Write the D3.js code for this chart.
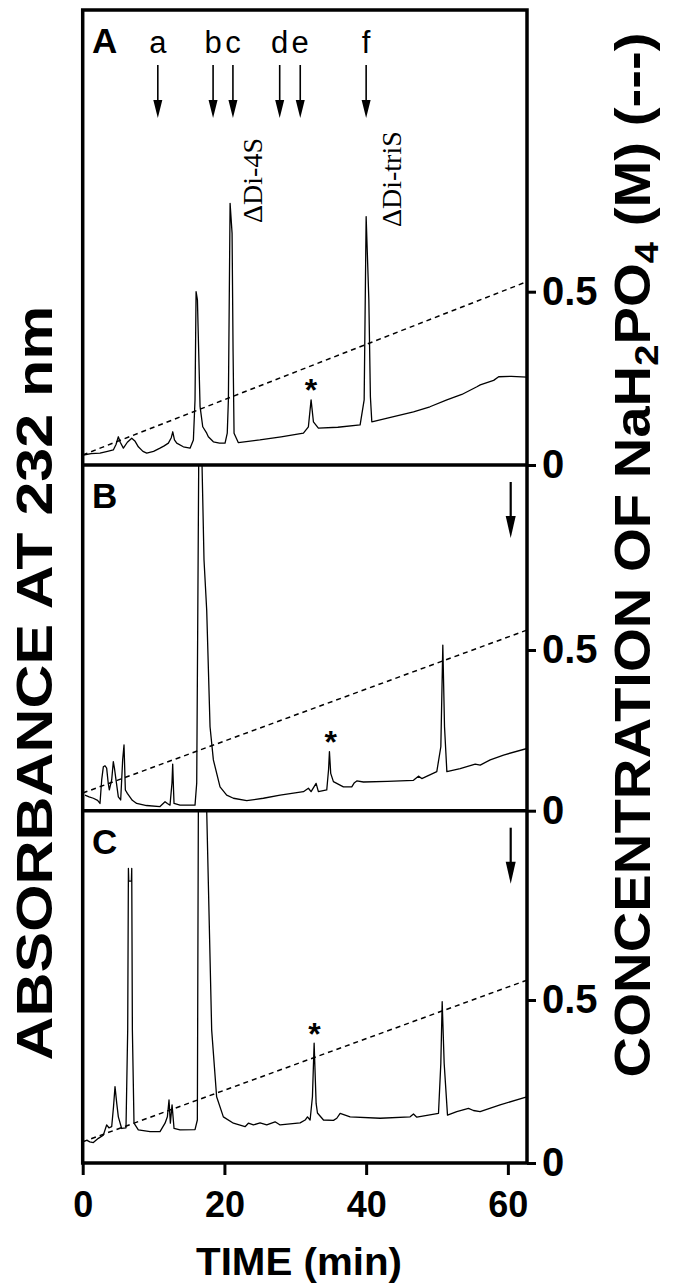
<!DOCTYPE html>
<html><head><meta charset="utf-8">
<script src="https://cdn.jsdelivr.net/npm/d3@7"></script>
<style>body{margin:0;background:#fff} svg{display:block}</style>
</head><body>
<svg id="chart" width="675" height="1283"></svg>
<script>
// ---------------- data ----------------
const timeTicks = [0, 20, 40, 60];
const concTicks = [0, 0.5];
const panelNames = ["A", "B", "C"];

// absorbance traces (time in min, relative absorbance 0..1 of panel height)
const traceA = [[0.09,0.022],[1.2,0.025],[2.44,0.026],[3.5,0.03],[4.32,0.033],[4.7,0.045],[5.03,0.062],[5.3,0.05],[5.74,0.037],[6.3,0.05],[6.92,0.059],[7.4,0.052],[7.85,0.04],[8.5,0.03],[9.04,0.026],[10.0,0.03],[10.91,0.037],[11.5,0.042],[12.09,0.048],[12.5,0.06],[12.71,0.073],[12.95,0.055],[13.27,0.048],[14.2,0.04],[15.15,0.037],[15.62,0.055],[15.85,0.143],[16.0,0.381],[16.19,0.363],[16.28,0.305],[16.56,0.129],[16.94,0.084],[17.5,0.07],[17.73,0.062],[18.44,0.051],[19.3,0.048],[20.09,0.048],[20.4,0.07],[20.56,0.143],[20.8,0.575],[21.08,0.509],[21.22,0.25],[21.36,0.07],[21.97,0.049],[25,0.055],[28,0.062],[31.15,0.07],[31.85,0.084],[32.23,0.143],[32.56,0.095],[33.26,0.081],[36,0.083],[39.15,0.088],[39.72,0.143],[40.0,0.546],[40.38,0.363],[40.6,0.15],[40.8,0.095],[43,0.103],[46.68,0.117],[49,0.128],[51.39,0.143],[53.5,0.155],[55.63,0.172],[56.1,0.176],[57.99,0.186],[58.7,0.194],[60.5,0.195],[62.7,0.193]];
const traceB = [[0.32,0.045],[0.9,0.04],[1.5,0.036],[2.1,0.03],[2.44,0.021],[2.68,0.089],[2.91,0.127],[3.15,0.13],[3.38,0.123],[3.6,0.08],[3.76,0.06],[4.09,0.089],[4.32,0.142],[4.5,0.12],[4.7,0.089],[5.03,0.04],[5.36,0.031],[5.64,0.147],[5.83,0.19],[6.02,0.06],[6.3,0.05],[7.0,0.03],[7.62,0.021],[9.0,0.015],[10.91,0.012],[11.62,0.026],[11.95,0.021],[12.32,0.016],[12.6,0.08],[12.7,0.135],[12.82,0.06],[12.89,0.021],[13.73,0.016],[15.85,0.016],[16.09,0.08],[16.23,0.532],[16.37,1.0],[16.6,2.0],[16.84,1.0],[17.12,0.725],[17.5,0.58],[17.97,0.243],[18.44,0.147],[19.38,0.069],[20.32,0.045],[21.27,0.036],[23.15,0.029],[25.5,0.036],[27.86,0.045],[31.15,0.055],[31.85,0.065],[32.23,0.055],[32.94,0.079],[33.26,0.055],[34.44,0.06],[34.7,0.12],[34.82,0.171],[35.0,0.108],[35.38,0.084],[36.79,0.069],[37.97,0.069],[38.3,0.08],[38.68,0.086],[39.62,0.083],[43,0.085],[46.68,0.088],[47.38,0.1],[47.85,0.093],[49.97,0.113],[50.54,0.185],[50.82,0.479],[51.06,0.243],[51.39,0.113],[53.27,0.122],[55.39,0.135],[56.1,0.132],[57.51,0.147],[59.39,0.161],[62.7,0.18]];
const traceC = [[0.56,0.065],[1.0,0.06],[1.5,0.058],[2.21,0.07],[2.91,0.079],[3.38,0.108],[3.7,0.1],[4.09,0.103],[4.35,0.16],[4.56,0.217],[4.8,0.17],[5.03,0.131],[5.5,0.098],[6.11,0.1],[6.35,0.378],[6.45,0.836],[6.5,0.8],[6.87,0.8],[6.92,0.836],[7.01,0.378],[7.24,0.113],[7.85,0.094],[9.51,0.089],[10.91,0.089],[11.62,0.113],[11.95,0.131],[12.18,0.179],[12.37,0.113],[12.61,0.165],[12.89,0.098],[13.73,0.094],[15.85,0.095],[16.18,0.122],[16.32,1.0],[16.9,3.0],[17.5,1.0],[18.2,0.378],[18.9,0.188],[19.85,0.131],[21.27,0.113],[22.91,0.103],[23.38,0.113],[24.09,0.108],[25.03,0.114],[25.97,0.108],[27.15,0.117],[27.86,0.108],[30.68,0.114],[31.39,0.122],[31.72,0.131],[32.09,0.122],[32.42,0.188],[32.66,0.34],[32.94,0.169],[33.13,0.142],[33.98,0.122],[35.39,0.121],[35.86,0.127],[36.33,0.141],[37.74,0.131],[41.98,0.127],[46.21,0.131],[46.68,0.139],[47.15,0.13],[50.21,0.141],[50.54,0.283],[50.73,0.458],[51.01,0.283],[51.48,0.136],[52.79,0.146],[54.44,0.155],[55.14,0.149],[56.08,0.146],[58.9,0.165],[62.67,0.188]];

// NaH2PO4 gradient (time in min, concentration in M)
const gradientA = [[0, 0.029], [62.7, 0.529]];
const gradientB = [[0, 0.055], [62.7, 0.562]];
const gradientC = [[0, 0.065], [62.7, 0.561]];

// standard elution markers (panel A)
const markerLetters = ["a", "b", "c", "d", "e", "f"];
const markerTimes = [10.6, 18.4, 21.2, 27.8, 30.7, 40.0];
const peakLabels = ["\u0394Di-4S", "\u0394Di-triS"];
const peakLabelTimes = [25.3, 44.9];
const peakLabelAbs = [0.532, 0.523];
// asterisks (one per panel)
const asteriskTimes = [32.2, 35.0, 32.7];
const asteriskAbs = [0.18, 0.219, 0.387];
// arrows in panels B, C
const arrowTimes = [null, 60.4, 60.4];

// ---------------- layout ----------------
const svg = d3.select("#chart");
const left = 82.7, right = 527;
const panelTop = [10, 465, 810.7];
const panelBottom = [465, 810.7, 1163];
const tickHalf = [291.7, 650, 1000];   // pixel of 0.5 M per panel
const x = d3.scaleLinear().domain([0, 62.7]).range([left, right]);
const traces = [traceA, traceB, traceC];
const gradients = [gradientA, gradientB, gradientC];
const FONT = "'Liberation Sans', Arial, Helvetica, sans-serif";

const defs = svg.append("defs");

panelNames.forEach((name, i) => {
  const yAbs = d3.scaleLinear().domain([0, 1]).range([panelBottom[i], panelTop[i]]);
  const yConc = d3.scaleLinear().domain([0, 0.5]).range([panelBottom[i], tickHalf[i]]);
  defs.append("clipPath").attr("id", "clip" + i)
    .append("rect").attr("x", left).attr("y", panelTop[i])
    .attr("width", right - left).attr("height", panelBottom[i] - panelTop[i]);
  const g = svg.append("g");
  const cg = g.append("g").attr("clip-path", `url(#clip${i})`);
  cg.append("path").datum(gradients[i])
    .attr("d", d3.line().x(d => x(d[0])).y(d => yConc(d[1])))
    .attr("fill", "none").attr("stroke", "#000").attr("stroke-width", 1.5)
    .attr("stroke-dasharray", "5,4");
  cg.append("path").datum(traces[i])
    .attr("d", d3.line().x(d => x(d[0])).y(d => yAbs(d[1])))
    .attr("fill", "none").attr("stroke", "#000").attr("stroke-width", 1.3)
    .attr("stroke-linejoin", "round");

  // right axis
  const ax = g.append("g").attr("transform", `translate(${right},0)`)
    .call(d3.axisRight(yConc).tickValues(concTicks).tickSize(9).tickPadding(6)
      .tickFormat(d => d === 0 ? "0" : "0.5"));
  ax.select(".domain").remove();
  ax.selectAll("line").attr("stroke", "#000").attr("stroke-width", 3);
  ax.selectAll("text").attr("font-family", FONT).attr("font-weight", "bold")
    .attr("font-size", 40).attr("fill", "#000");

  // panel letter
  g.append("text").attr("x", 92).attr("y", panelTop[i] + 43)
    .attr("font-family", FONT).attr("font-weight", "bold").attr("font-size", 35)
    .text(name);

  // asterisk
  g.append("text").attr("x", x(asteriskTimes[i])).attr("y", yAbs(asteriskAbs[i]) + 18)
    .attr("text-anchor", "middle").attr("font-family", FONT).attr("font-weight", "bold")
    .attr("font-size", 32).text("*");

  if (arrowTimes[i] !== null) {
    const ax0 = x(arrowTimes[i]), y0 = panelTop[i] + 17, y1 = panelTop[i] + 73;
    g.append("line").attr("x1", ax0).attr("x2", ax0).attr("y1", y0).attr("y2", y1 - 10)
      .attr("stroke", "#000").attr("stroke-width", 2.2);
    g.append("path").attr("d", `M${ax0 - 5},${y1 - 22}L${ax0 + 5},${y1 - 22}L${ax0},${y1}Z`).attr("fill", "#000");
  }

  if (i === 0) {
    markerTimes.forEach((t, k) => {
      const mx = x(t);
      g.append("text").attr("x", mx).attr("y", 53).attr("text-anchor", "middle")
        .attr("font-family", FONT).attr("font-size", 31).text(markerLetters[k]);
      g.append("line").attr("x1", mx).attr("x2", mx).attr("y1", 65).attr("y2", 108)
        .attr("stroke", "#000").attr("stroke-width", 1.6);
      g.append("path").attr("d", `M${mx - 4.5},${100}L${mx + 4.5},${100}L${mx},${118}Z`).attr("fill", "#000");
    });
    peakLabels.forEach((lab, k) => {
      g.append("text")
        .attr("transform", `translate(${x(peakLabelTimes[k])},${yAbs(peakLabelAbs[k])}) rotate(-90)`)
        .attr("font-family", "'Liberation Serif', 'Times New Roman', serif")
        .attr("font-size", 28).text(lab);
    });
  }
});

// frame
svg.append("rect").attr("x", left).attr("y", panelTop[0]).attr("width", right - left)
  .attr("height", panelBottom[2] - panelTop[0]).attr("fill", "none")
  .attr("stroke", "#000").attr("stroke-width", 3.5);
[panelBottom[0], panelBottom[1]].forEach(yy => {
  svg.append("line").attr("x1", left).attr("x2", right).attr("y1", yy).attr("y2", yy)
    .attr("stroke", "#000").attr("stroke-width", 3.5);
});

// bottom axis
const bx = svg.append("g").attr("transform", `translate(0,${panelBottom[2]})`)
  .call(d3.axisBottom(x).tickValues(timeTicks).tickSize(12).tickPadding(16));
bx.select(".domain").remove();
bx.selectAll("line").attr("stroke", "#000").attr("stroke-width", 3);
bx.selectAll("text").attr("font-family", FONT).attr("font-weight", "bold")
  .attr("font-size", 36).attr("fill", "#000");

// titles
function fitText(sel, len) {
  const w = sel.node().getComputedTextLength();
  return len / w;
}
const xt = svg.append("text").attr("text-anchor", "middle")
  .attr("font-family", FONT).attr("font-weight", "bold").attr("font-size", 38)
  .text("TIME (min)");
const sx = fitText(xt, 206);
xt.attr("transform", `translate(299,1275) scale(${sx},1)`);

const yt = svg.append("text").attr("text-anchor", "middle")
  .attr("font-family", FONT).attr("font-weight", "bold").attr("font-size", 50)
  .attr("dominant-baseline", "central")
  .text("ABSORBANCE AT 232 nm");
const sy = fitText(yt, 755);
yt.attr("transform", `translate(35,683) rotate(-90) scale(${sy},1)`);

const rt = svg.append("text").attr("text-anchor", "middle")
  .attr("font-family", FONT).attr("font-weight", "bold").attr("font-size", 50);
rt.append("tspan").text("CONCENTRATION OF NaH");
rt.append("tspan").attr("font-size", 34).attr("dy", 8).text("2");
rt.append("tspan").attr("dy", -8).text("PO");
rt.append("tspan").attr("font-size", 34).attr("dy", 8).text("4");
rt.append("tspan").attr("dy", -8).text(" (M) (---)");
const sr = fitText(rt, 1045);
rt.attr("transform", `translate(650,555) rotate(-90) scale(${sr},1)`);
</script>
</body></html>
